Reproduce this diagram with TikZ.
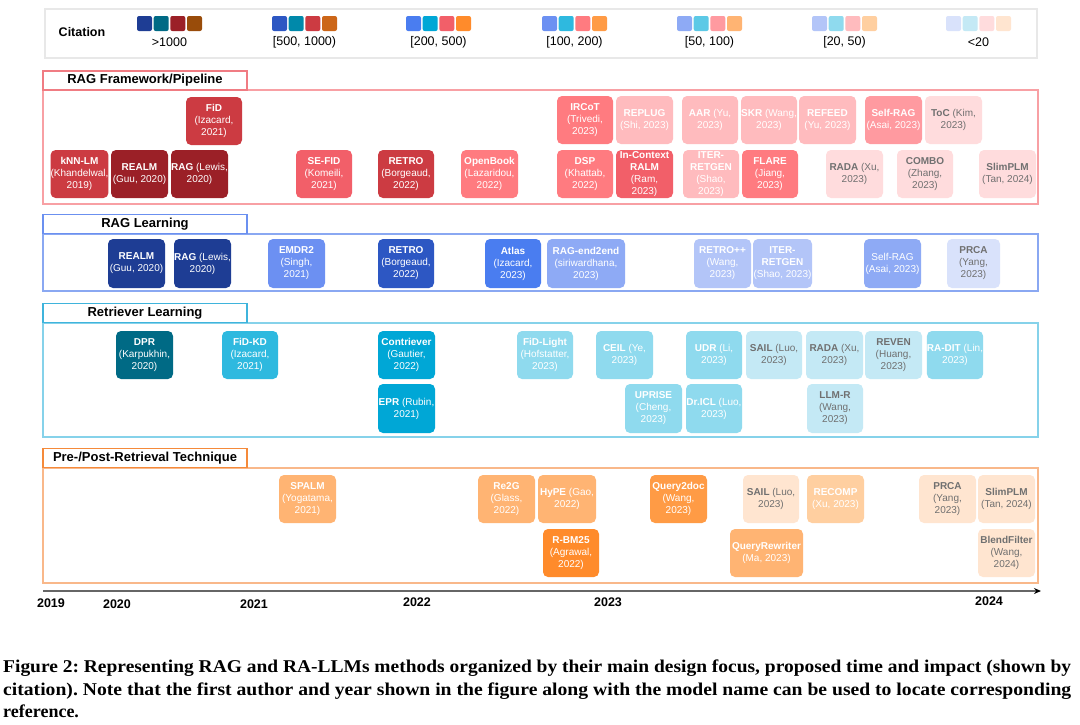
\documentclass[tikz,border=0pt]{standalone}
\usepackage{fontspec}
\setmainfont{Liberation Sans}
\newfontfamily\capfont{Liberation Serif}
\usetikzlibrary{arrows.meta}
\frenchspacing
% blues
\definecolor{b1}{HTML}{1E3D94}\definecolor{b2}{HTML}{2D57C3}\definecolor{b3}{HTML}{4A7DF0}
\definecolor{b4}{HTML}{6C90F2}\definecolor{b5}{HTML}{8EAAF5}\definecolor{b6}{HTML}{B3C5F8}\definecolor{b7}{HTML}{D9E2FB}
% teals
\definecolor{t1}{HTML}{006A85}\definecolor{t2}{HTML}{0089AA}\definecolor{t3}{HTML}{00A7D6}
\definecolor{t4}{HTML}{2EB9DF}\definecolor{t5}{HTML}{5CC9E6}\definecolor{t6}{HTML}{8FDAEE}\definecolor{t7}{HTML}{C4E9F5}
% reds
\definecolor{r1}{HTML}{9B2027}\definecolor{r2}{HTML}{CC3B42}\definecolor{r3}{HTML}{F25F69}
\definecolor{r4}{HTML}{FF7B80}\definecolor{r5}{HTML}{FF9AA0}\definecolor{r6}{HTML}{FFBBBE}\definecolor{r7}{HTML}{FFDCDD}
% oranges
\definecolor{o1}{HTML}{994C0A}\definecolor{o2}{HTML}{CC6618}\definecolor{o3}{HTML}{FF8B2B}
\definecolor{o4}{HTML}{FF9B45}\definecolor{o5}{HTML}{FFB473}\definecolor{o6}{HTML}{FFCFA0}\definecolor{o7}{HTML}{FFE5D0}
\definecolor{gtxt}{HTML}{707070}
\definecolor{secAm}{HTML}{F8A0A4}\definecolor{secAl}{HTML}{F07C83}
\definecolor{secBm}{HTML}{8AA8F2}\definecolor{secBl}{HTML}{6B90F0}
\definecolor{secCm}{HTML}{86D2EA}\definecolor{secCl}{HTML}{3FB4DC}
\definecolor{secDm}{HTML}{F9B88A}\definecolor{secDl}{HTML}{F58A3A}
\tikzset{
  paper/.style={rounded corners=5pt, inner sep=0pt, align=center,
    font=\fontsize{10}{12}\selectfont},
  secmain/.style={line width=1.2pt},
  seclab/.style={line width=1.6pt, fill=white, inner sep=0pt,
    minimum width=204, minimum height=19, font=\fontsize{13}{15}\selectfont\bfseries},
  legsq/.style={rounded corners=2pt, minimum width=15, minimum height=15, inner sep=0pt},
  leglab/.style={font=\fontsize{12.5}{14}\selectfont},
  year/.style={font=\fontsize{12.5}{14}\selectfont\bfseries},
  capline/.style={anchor=base west, inner sep=0pt, font=\capfont\bfseries\fontsize{18}{22}\selectfont},
}
% name, x1, x2, y1, y2, fill, textcolour, content
\newcommand{\paperbox}[8]{%
  \node[paper, fill=#6, text=#7, minimum width={(#3)-(#2)}, minimum height={(#5)-(#4)}]
    (#1) at ({((#2)+(#3))/2},{((#4)+(#5))/2}) {#8};}
\begin{document}
\begin{tikzpicture}[x=1pt,y=-1pt]
\useasboundingbox[fill=white] (0,0) rectangle (1080,724);

% ---------- legend ----------
\draw[line width=1.6pt, draw=black!9] (45,9) rectangle (1037,58);
\node[font=\fontsize{12.5}{14}\selectfont\bfseries] (cit) at (82,32) {Citation};
\foreach \gx/\lab/\k [count=\i] in {137/{>1000}/1, 272/{[500, 1000)}/2, 406/{[200, 500)}/3,
  542/{[100, 200)}/4, 677/{[50, 100)}/5, 812/{[20, 50)}/6, 946/{<20}/7}{
  \node[legsq, fill=b\k] (lq\i a) at (\gx+7.5,23.5) {};
  \node[legsq, fill=t\k] (lq\i b) at (\gx+24.2,23.5) {};
  \node[legsq, fill=r\k] (lq\i c) at (\gx+40.8,23.5) {};
  \node[legsq, fill=o\k] (lq\i d) at (\gx+57.5,23.5) {};
  \node[leglab] (ll\i) at (\gx+32.5,42) {\lab};
}

% ---------- section frames ----------
\draw[secmain, draw=secAm] (43,90) rectangle (1038,204);
\node[seclab, draw=secAl] (labA) at (145,80.5) {RAG Framework/Pipeline};
\draw[secmain, draw=secBm] (43,234) rectangle (1038,291);
\node[seclab, draw=secBl] (labB) at (145,224) {RAG Learning};
\draw[secmain, draw=secCm] (43,323) rectangle (1038,437);
\node[seclab, draw=secCl] (labC) at (145,313) {Retriever Learning};
\draw[secmain, draw=secDm] (43,468) rectangle (1038,583);
\node[seclab, draw=secDl] (labD) at (145,458) {Pre-/Post-Retrieval Technique};

% ---------- RAG Framework / Pipeline ----------
\paperbox{fid}{186}{242}{97}{145}{r2}{white}{\textbf{FiD}\\(Izacard,\\2021)}
\paperbox{knn}{51}{108}{150}{198}{r2}{white}{\textbf{kNN-LM}\\(Khandelwal,\\2019)}
\paperbox{realmA}{111}{168}{150}{198}{r1}{white}{\textbf{REALM}\\(Guu, 2020)}
\paperbox{ragA}{171}{228}{150}{198}{r1}{white}{\textbf{RAG} (Lewis,\\2020)}
\paperbox{sefid}{296}{352}{150}{198}{r3}{white}{\textbf{SE-FID}\\(Komeili,\\2021)}
\paperbox{retroA}{378}{434}{150}{198}{r2}{white}{\textbf{RETRO}\\(Borgeaud,\\2022)}
\paperbox{openbook}{461}{518}{150}{198}{r4}{white}{\textbf{OpenBook}\\(Lazaridou,\\2022)}
\paperbox{ircot}{557}{613}{96}{144}{r4}{white}{\textbf{IRCoT}\\(Trivedi,\\2023)}
\paperbox{replug}{616}{673}{96}{144}{r6}{white}{\textbf{REPLUG}\\(Shi, 2023)}
\paperbox{aar}{682}{738}{96}{144}{r6}{white}{\textbf{AAR} (Yu,\\2023)}
\paperbox{skr}{741}{797}{96}{144}{r6}{white}{\textbf{SKR} (Wang,\\2023)}
\paperbox{refeed}{799}{856}{96}{144}{r6}{white}{\textbf{REFEED}\\(Yu, 2023)}
\paperbox{selfragA}{865}{922}{96}{144}{r5}{white}{\textbf{Self-RAG}\\(Asai, 2023)}
\paperbox{toc}{925}{982}{96}{144}{r7}{gtxt}{\textbf{ToC} (Kim,\\2023)}
\paperbox{dsp}{557}{613}{150}{198}{r4}{white}{\textbf{DSP}\\(Khattab,\\2022)}
\paperbox{icralm}{616}{673}{150}{198}{r3}{white}{\textbf{In-Context}\\\textbf{RALM}\\(Ram,\\2023)}
\paperbox{iterA}{683}{739}{150}{198}{r6}{white}{\textbf{ITER-}\\\textbf{RETGEN}\\(Shao,\\2023)}
\paperbox{flare}{742}{798}{150}{198}{r4}{white}{\textbf{FLARE}\\(Jiang,\\2023)}
\paperbox{radaA}{826}{883}{150}{198}{r7}{gtxt}{\textbf{RADA} (Xu,\\2023)}
\paperbox{combo}{897}{953}{150}{198}{r7}{gtxt}{\textbf{COMBO}\\(Zhang,\\2023)}
\paperbox{slimA}{979}{1036}{150}{198}{r7}{gtxt}{\textbf{SlimPLM}\\(Tan, 2024)}

% ---------- RAG Learning ----------
\paperbox{realmB}{108}{165}{239}{288}{b1}{white}{\textbf{REALM}\\(Guu, 2020)}
\paperbox{ragB}{174}{231}{239}{288}{b1}{white}{\textbf{RAG} (Lewis,\\2020)}
\paperbox{emdr}{268}{325}{239}{288}{b4}{white}{\textbf{EMDR2}\\(Singh,\\2021)}
\paperbox{retroB}{378}{434}{239}{288}{b2}{white}{\textbf{RETRO}\\(Borgeaud,\\2022)}
\paperbox{atlas}{485}{541}{239}{288}{b3}{white}{\textbf{Atlas}\\(Izacard,\\2023)}
\paperbox{e2e}{547}{625}{239}{288}{b5}{white}{\textbf{RAG-end2end}\\(siriwardhana,\\2023)}
\paperbox{retropp}{694}{751}{239}{288}{b6}{white}{\textbf{RETRO++}\\(Wang,\\2023)}
\paperbox{iterB}{753}{812}{239}{288}{b6}{white}{\textbf{ITER-}\\\textbf{RETGEN}\\(Shao, 2023)}
\paperbox{selfragB}{864}{921}{239}{288}{b5}{white}{Self-RAG\\(Asai, 2023)}
\paperbox{prcaB}{947}{1000}{239}{288}{b7}{gtxt}{\textbf{PRCA}\\(Yang,\\2023)}

% ---------- Retriever Learning ----------
\paperbox{dpr}{116}{173}{331}{379}{t1}{white}{\textbf{DPR}\\(Karpukhin,\\2020)}
\paperbox{fidkd}{222}{278}{331}{379}{t4}{white}{\textbf{FiD-KD}\\(Izacard,\\2021)}
\paperbox{contriever}{378}{435}{331}{379}{t3}{white}{\textbf{Contriever}\\(Gautier,\\2022)}
\paperbox{epr}{378}{435}{384}{433}{t3}{white}{\textbf{EPR} (Rubin,\\2021)}
\paperbox{fidlight}{517}{573}{331}{379}{t6}{white}{\textbf{FiD-Light}\\(Hofstatter,\\2023)}
\paperbox{ceil}{596}{653}{331}{379}{t6}{white}{\textbf{CEIL} (Ye,\\2023)}
\paperbox{udr}{686}{742}{331}{379}{t6}{white}{\textbf{UDR} (Li,\\2023)}
\paperbox{sailC}{746}{802}{331}{379}{t7}{gtxt}{\textbf{SAIL} (Luo,\\2023)}
\paperbox{radaC}{806}{863}{331}{379}{t7}{gtxt}{\textbf{RADA} (Xu,\\2023)}
\paperbox{reven}{865}{922}{331}{379}{t7}{gtxt}{\textbf{REVEN}\\(Huang,\\2023)}
\paperbox{radit}{927}{983}{331}{379}{t6}{white}{\textbf{RA-DIT} (Lin,\\2023)}
\paperbox{uprise}{625}{682}{384}{433}{t6}{white}{\textbf{UPRISE}\\(Cheng,\\2023)}
\paperbox{dricl}{686}{742}{384}{433}{t6}{white}{\textbf{Dr.ICL} (Luo,\\2023)}
\paperbox{llmr}{807}{863}{384}{433}{t7}{gtxt}{\textbf{LLM-R}\\(Wang,\\2023)}

% ---------- Pre-/Post-Retrieval ----------
\paperbox{spalm}{279}{336}{475}{523}{o5}{white}{\textbf{SPALM}\\(Yogatama,\\2021)}
\paperbox{re2g}{478}{535}{475}{523}{o5}{white}{\textbf{Re2G}\\(Glass,\\2022)}
\paperbox{hype}{538}{596}{475}{523}{o5}{white}{\textbf{HyPE} (Gao,\\2022)}
\paperbox{q2d}{650}{707}{475}{523}{o4}{white}{\textbf{Query2doc}\\(Wang,\\2023)}
\paperbox{sailD}{743}{799}{475}{523}{o7}{gtxt}{\textbf{SAIL} (Luo,\\2023)}
\paperbox{recomp}{807}{864}{475}{523}{o6}{white}{\textbf{RECOMP}\\(Xu, 2023)}
\paperbox{prcaD}{919}{976}{475}{523}{o7}{gtxt}{\textbf{PRCA}\\(Yang,\\2023)}
\paperbox{slimD}{978}{1035}{475}{523}{o7}{gtxt}{\textbf{SlimPLM}\\(Tan, 2024)}
\paperbox{rbm}{543}{599}{529}{577}{o3}{white}{\textbf{R-BM25}\\(Agrawal,\\2022)}
\paperbox{qrw}{730}{803}{529}{577}{o5}{white}{\textbf{QueryRewriter}\\(Ma, 2023)}
\paperbox{blend}{978}{1035}{529}{577}{o7}{gtxt}{\textbf{BlendFilter}\\(Wang,\\2024)}

% ---------- timeline ----------
\coordinate (t0) at (43,591);
\coordinate (t1) at (1041,591);
\draw[line width=1.3pt, draw=black!60, -{Stealth[length=7pt,width=6pt,black]}] (t0) -- (t1);
\node[year] (y19) at (51,603) {2019};
\node[year] (y20) at (117,604) {2020};
\node[year] (y21) at (254,604) {2021};
\node[year] (y22) at (417,602) {2022};
\node[year] (y23) at (608,602) {2023};
\node[year] (y24) at (989,601) {2024};

% ---------- caption ----------
\node[capline] (cap1) at (3,672) {\resizebox{1068pt}{\height}{Figure 2: Representing RAG and RA-LLMs methods organized by their main design focus, proposed time and impact (shown by}};
\node[capline] (cap2) at (3,695) {\resizebox{1068pt}{\height}{citation). Note that the first author and year shown in the figure along with the model name can be used to locate corresponding}};
\node[capline] (cap3) at (3,717) {reference.};
\end{tikzpicture}
\end{document}
